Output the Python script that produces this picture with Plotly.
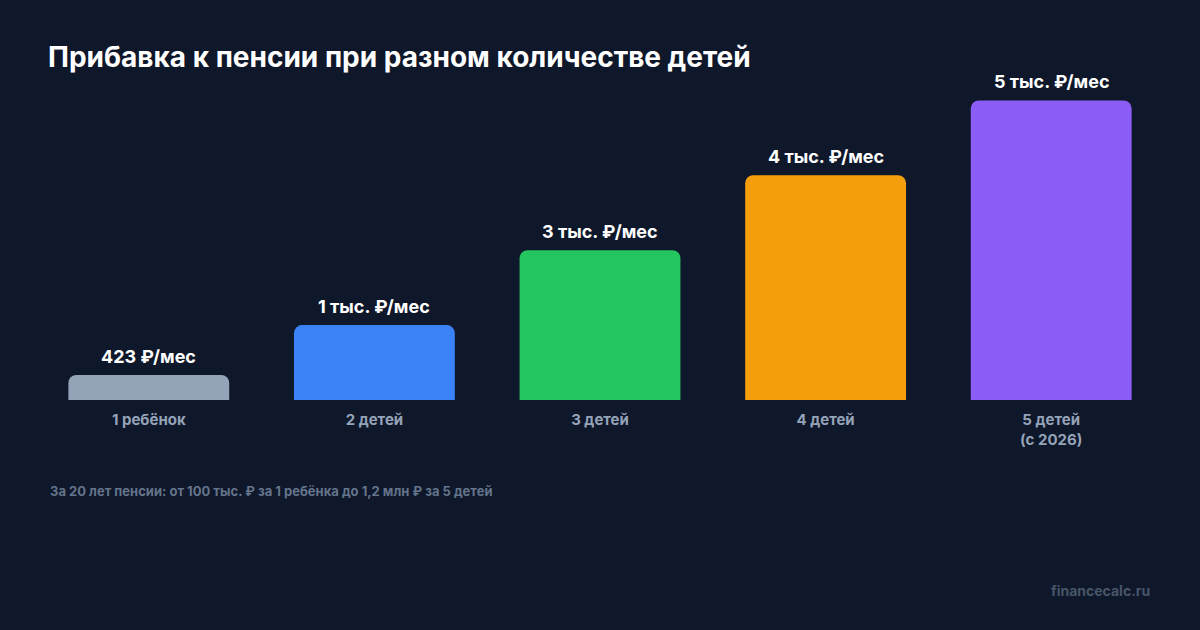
import plotly.graph_objects as go

categories = ["1 ребёнок", "2 детей", "3 детей", "4 детей", "5 детей<br>(с 2026)"]
values = [423, 1269, 2538, 3807, 5076]
value_labels = ["423 ₽/мес", "1 тыс. ₽/мес", "3 тыс. ₽/мес", "4 тыс. ₽/мес", "5 тыс. ₽/мес"]
colors = ["#94a3b8", "#3b82f6", "#22c55e", "#f59e0b", "#8b5cf6"]

title_text = "Прибавка к пенсии при разном количестве детей"
footnote = "За 20 лет пенсии: от 100 тыс. ₽ за 1 ребёнка до 1,2 млн ₽ за 5 детей"
watermark = "financecalc.ru"

BG = "#0f172a"
W, H = 1200, 630
ML, MR, MT, MB = 36, 36, 60, 230
PW = W - ML - MR
PH = H - MT - MB

fig = go.Figure()
fig.add_trace(go.Bar(
    x=categories, y=values,
    marker=dict(color=colors, line=dict(width=0)),
    hoverinfo="skip",
))

annotations = []
for c, v, lab in zip(categories, values, value_labels):
    annotations.append(dict(
        x=c, y=v, xref="x", yref="y", text=f"<b>{lab}</b>",
        showarrow=False, yanchor="bottom", yshift=6,
        font=dict(family="Inter", size=18, color="#ffffff"),
    ))

annotations.append(dict(
    xref="paper", yref="paper",
    x=(48 - ML) / PW, y=(H - MB - 491) / PH,
    xanchor="left", yanchor="middle", showarrow=False,
    text=f"<b>{footnote}</b>",
    font=dict(family="Inter", size=13, color="#64748b"),
))
annotations.append(dict(
    xref="paper", yref="paper",
    x=(1152 - ML) / PW, y=(H - MB - 590) / PH,
    xanchor="right", yanchor="middle", showarrow=False,
    text=f"<b>{watermark}</b>",
    font=dict(family="Inter", size=14, color="#475569"),
))

fig.update_layout(
    width=W, height=H,
    paper_bgcolor=BG, plot_bgcolor=BG,
    margin=dict(l=ML, r=MR, t=MT, b=MB, pad=0),
    bargap=0.287,
    barcornerradius=8,
    showlegend=False,
    title=dict(
        text=f"<b>{title_text}</b>",
        xref="container", yref="container",
        x=48 / W, y=1 - 57 / H, xanchor="left", yanchor="middle",
        font=dict(family="Inter", size=28, color="#ffffff"),
    ),
    xaxis=dict(
        showgrid=False, zeroline=False, showline=False, ticks="",
        tickfont=dict(family="Inter", size=15, color="#94a3b8", weight="bold"),
        ticklabelstandoff=9,
    ),
    yaxis=dict(
        range=[0, 5760], showgrid=False, zeroline=False, showline=False,
        showticklabels=False, ticks="",
    ),
    annotations=annotations,
)

fig.write_html("out.html")
